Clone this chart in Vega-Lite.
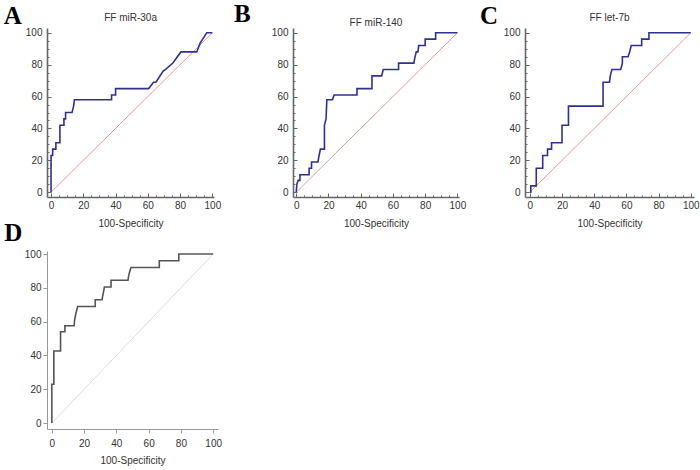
{
  "$schema": "https://vega.github.io/schema/vega-lite/v6.json",
  "padding": {"left": 3, "top": 2, "right": 5, "bottom": 5},
  "background": "white",
  "config": {
    "view": {"stroke": null},
    "font": "Liberation Sans",
    "axis": {"grid": false, "tickCount": 40, "labelFont": "Liberation Sans", "titleFont": "Liberation Sans", "labelFontSize": 10, "titleFontSize": 10, "titleFontWeight": "normal", "labelColor": "#333", "titleColor": "#333", "labelFlush": false, "labelOverlap": false, "labelBound": false}
  },
  "datasets": {
    "diag": [{"x": 0, "y": 0}, {"x": 100, "y": 100}],
    "A": [{"x":0,"y":0},{"x":0,"y":23},{"x":1,"y":23},{"x":1,"y":27},{"x":3,"y":27},{"x":3,"y":31},{"x":5.5,"y":31},{"x":5.5,"y":42},{"x":8,"y":42},{"x":8,"y":46},{"x":9,"y":46},{"x":9,"y":50},{"x":13,"y":50},{"x":14,"y":54},{"x":14.5,"y":58},{"x":37.5,"y":58},{"x":37.5,"y":61},{"x":40,"y":61},{"x":40,"y":65},{"x":60.5,"y":65},{"x":62,"y":67},{"x":63.5,"y":69},{"x":65,"y":69},{"x":69.5,"y":76},{"x":71,"y":77},{"x":75.5,"y":81},{"x":80.5,"y":88},{"x":90.3,"y":88},{"x":92.4,"y":93.5},{"x":96.5,"y":100},{"x":100,"y":100}],
    "B": [{"x":0,"y":0},{"x":0.4,"y":5},{"x":1.2,"y":7.4},{"x":2.3,"y":7.4},{"x":2.3,"y":11},{"x":8,"y":11},{"x":8,"y":15},{"x":9.5,"y":15},{"x":9.5,"y":19},{"x":13.5,"y":19},{"x":14,"y":22},{"x":15,"y":27},{"x":17.5,"y":27},{"x":17.5,"y":42},{"x":18.5,"y":46},{"x":19,"y":58},{"x":22.5,"y":58},{"x":23.5,"y":61},{"x":37.7,"y":61},{"x":37.7,"y":65},{"x":47,"y":65},{"x":47,"y":73},{"x":53,"y":73},{"x":54,"y":77},{"x":63.5,"y":77},{"x":63.5,"y":81},{"x":73,"y":81},{"x":73.5,"y":84},{"x":74.5,"y":88},{"x":75.5,"y":88},{"x":76,"y":92},{"x":80,"y":92},{"x":80,"y":96},{"x":86.5,"y":96},{"x":86.5,"y":100},{"x":100,"y":100}],
    "C": [{"x":0,"y":0},{"x":0.6,"y":0},{"x":0.6,"y":4},{"x":4,"y":4},{"x":4,"y":15},{"x":8,"y":15},{"x":8,"y":23},{"x":11,"y":23},{"x":11,"y":27},{"x":13.5,"y":27},{"x":13.5,"y":31},{"x":20,"y":31},{"x":20,"y":42},{"x":24,"y":42},{"x":24,"y":54},{"x":45.5,"y":54},{"x":45.5,"y":69},{"x":49.5,"y":69},{"x":50,"y":73},{"x":51,"y":77},{"x":56.5,"y":77},{"x":57.5,"y":81},{"x":57.5,"y":85},{"x":61,"y":85},{"x":62,"y":88},{"x":63,"y":92},{"x":69.5,"y":92},{"x":69.5,"y":96},{"x":74,"y":96},{"x":74,"y":100},{"x":100,"y":100}],
    "D": [{"x":0,"y":0},{"x":0,"y":23},{"x":1.25,"y":23},{"x":1.25,"y":42.6},{"x":5.4,"y":42.6},{"x":5.4,"y":54},{"x":8.1,"y":54},{"x":8.1,"y":57.6},{"x":13.8,"y":57.6},{"x":14.2,"y":61.4},{"x":15,"y":65.3},{"x":16,"y":69},{"x":26.9,"y":69},{"x":26.9,"y":73},{"x":31.1,"y":73},{"x":31.9,"y":77},{"x":32.6,"y":80.5},{"x":36.7,"y":80.5},{"x":36.7,"y":84.5},{"x":47.2,"y":84.5},{"x":47.8,"y":88},{"x":49,"y":92},{"x":66.6,"y":92},{"x":66.6,"y":96},{"x":78.7,"y":96},{"x":78.7,"y":100},{"x":100,"y":100}]
  },
  "vconcat": [
    {
      "hconcat": [
        {
          "width": 167, "height": 169,
          "layer": [
            {"data": {"name": "diag"}, "mark": {"type": "line", "color": "#e39a9a", "strokeWidth": 1},
             "encoding": {"x": {"field": "x", "type": "quantitative"}, "y": {"field": "y", "type": "quantitative"}}},
            {"data": {"name": "A"}, "mark": {"type": "line", "color": "#2e3192", "strokeWidth": 1.6},
             "encoding": {
               "x": {"field": "x", "type": "quantitative", "scale": {"domain": [-2.5, 101], "nice": false, "zero": false},
                     "axis": {"title": "100-Specificity", "tickCount": 40, "values": [0,5,10,15,20,25,30,35,40,45,50,55,60,65,70,75,80,85,90,95,100], "labelExpr": "datum.value % 20 === 0 ? datum.label : ''", "labelOverlap": false, "tickSize": {"condition": {"test": "datum.value % 20 === 0", "value": -4}, "value": -2}, "labelPadding": 7, "domainColor": "#666", "domainWidth": 1.6, "tickColor": "#666", "titlePadding": 6}},
               "y": {"field": "y", "type": "quantitative", "scale": {"domain": [-3, 103], "nice": false, "zero": false},
                     "axis": {"title": null, "tickCount": 40, "values": [0,5,10,15,20,25,30,35,40,45,50,55,60,65,70,75,80,85,90,95,100], "labelExpr": "datum.value % 20 === 0 ? datum.label : ''", "labelOverlap": false, "tickSize": {"condition": {"test": "datum.value % 20 === 0", "value": -4}, "value": -2}, "labelPadding": 9, "domainColor": "#666", "domainWidth": 1.6, "tickColor": "#666"}},
               "order": {"value": null}}},
            {"data": {"values": [{"label": "A", "title": "FF miR-30a"}]},
             "layer": [
               {"mark": {"type": "text", "font": "Liberation Serif", "fontWeight": "bold", "fontSize": 25, "align": "left", "baseline": "alphabetic", "color": "black"},
                "encoding": {"x": {"datum": -29.3}, "y": {"datum": 105.5}, "text": {"field": "label"}}},
               {"mark": {"type": "text", "font": "Liberation Sans", "fontSize": 10, "align": "center", "baseline": "middle", "color": "#333"},
                "encoding": {"x": {"datum": 49.3}, "y": {"datum": 109.5}, "text": {"field": "title"}}}
             ]}
          ]
        },
        {
          "width": 166, "height": 169,
          "layer": [
            {"data": {"name": "diag"}, "mark": {"type": "line", "color": "#e39a9a", "strokeWidth": 1},
             "encoding": {"x": {"field": "x", "type": "quantitative"}, "y": {"field": "y", "type": "quantitative"}}},
            {"data": {"name": "B"}, "mark": {"type": "line", "color": "#2e3192", "strokeWidth": 1.6},
             "encoding": {
               "x": {"field": "x", "type": "quantitative", "scale": {"domain": [-2, 101], "nice": false, "zero": false},
                     "axis": {"title": "100-Specificity", "tickCount": 40, "values": [0,5,10,15,20,25,30,35,40,45,50,55,60,65,70,75,80,85,90,95,100], "labelExpr": "datum.value % 20 === 0 ? datum.label : ''", "labelOverlap": false, "tickSize": {"condition": {"test": "datum.value % 20 === 0", "value": -4}, "value": -2}, "labelPadding": 7, "domainColor": "#666", "domainWidth": 1.6, "tickColor": "#666", "titlePadding": 6}},
               "y": {"field": "y", "type": "quantitative", "scale": {"domain": [-3, 103], "nice": false, "zero": false},
                     "axis": {"title": null, "tickCount": 40, "values": [0,5,10,15,20,25,30,35,40,45,50,55,60,65,70,75,80,85,90,95,100], "labelExpr": "datum.value % 20 === 0 ? datum.label : ''", "labelOverlap": false, "tickSize": {"condition": {"test": "datum.value % 20 === 0", "value": -4}, "value": -2}, "labelPadding": 9, "domainColor": "#666", "domainWidth": 1.6, "tickColor": "#666"}},
               "order": {"value": null}}},
            {"data": {"values": [{"label": "B", "title": "FF miR-140"}]},
             "layer": [
               {"mark": {"type": "text", "font": "Liberation Serif", "fontWeight": "bold", "fontSize": 25, "align": "left", "baseline": "alphabetic", "color": "black"},
                "encoding": {"x": {"datum": -38.6}, "y": {"datum": 106.6}, "text": {"field": "label"}}},
               {"mark": {"type": "text", "font": "Liberation Sans", "fontSize": 10, "align": "center", "baseline": "middle", "color": "#333"},
                "encoding": {"x": {"datum": 49.5}, "y": {"datum": 106.0}, "text": {"field": "title"}}}
             ]}
          ]
        },
        {
          "width": 169, "height": 169,
          "layer": [
            {"data": {"name": "diag"}, "mark": {"type": "line", "color": "#e39a9a", "strokeWidth": 1},
             "encoding": {"x": {"field": "x", "type": "quantitative"}, "y": {"field": "y", "type": "quantitative"}}},
            {"data": {"name": "C"}, "mark": {"type": "line", "color": "#2e3192", "strokeWidth": 1.6},
             "encoding": {
               "x": {"field": "x", "type": "quantitative", "scale": {"domain": [-3, 102], "nice": false, "zero": false},
                     "axis": {"title": "100-Specificity", "tickCount": 40, "values": [0,5,10,15,20,25,30,35,40,45,50,55,60,65,70,75,80,85,90,95,100], "labelExpr": "datum.value % 20 === 0 ? datum.label : ''", "labelOverlap": false, "tickSize": {"condition": {"test": "datum.value % 20 === 0", "value": -4}, "value": -2}, "labelPadding": 7, "domainColor": "#666", "domainWidth": 1.6, "tickColor": "#666", "titlePadding": 6}},
               "y": {"field": "y", "type": "quantitative", "scale": {"domain": [-3, 103], "nice": false, "zero": false},
                     "axis": {"title": null, "tickCount": 40, "values": [0,5,10,15,20,25,30,35,40,45,50,55,60,65,70,75,80,85,90,95,100], "labelExpr": "datum.value % 20 === 0 ? datum.label : ''", "labelOverlap": false, "tickSize": {"condition": {"test": "datum.value % 20 === 0", "value": -4}, "value": -2}, "labelPadding": 9, "domainColor": "#666", "domainWidth": 1.6, "tickColor": "#666"}},
               "order": {"value": null}}},
            {"data": {"values": [{"label": "C", "title": "FF let-7b"}]},
             "layer": [
               {"mark": {"type": "text", "font": "Liberation Serif", "fontWeight": "bold", "fontSize": 25, "align": "left", "baseline": "alphabetic", "color": "black"},
                "encoding": {"x": {"datum": -31}, "y": {"datum": 105.5}, "text": {"field": "label"}}},
               {"mark": {"type": "text", "font": "Liberation Sans", "fontSize": 10, "align": "center", "baseline": "middle", "color": "#333"},
                "encoding": {"x": {"datum": 49.5}, "y": {"datum": 109.5}, "text": {"field": "title"}}}
             ]}
          ]
        }
      ],
      "spacing": 13
    },
    {
      "width": 171, "height": 178,
      "layer": [
        {"data": {"name": "diag"}, "mark": {"type": "line", "color": "#dcdcdc", "strokeWidth": 1},
         "encoding": {"x": {"field": "x", "type": "quantitative"}, "y": {"field": "y", "type": "quantitative"}}},
        {"data": {"name": "D"}, "mark": {"type": "line", "color": "#555555", "strokeWidth": 1.6},
         "encoding": {
           "x": {"field": "x", "type": "quantitative", "scale": {"domain": [-3, 103], "nice": false, "zero": false},
                 "axis": {"title": "100-Specificity", "tickCount": 40, "values": [0,20,40,60,80,100], "labelOverlap": false, "tickSize": 4, "labelPadding": 5, "domainColor": "#999", "domainWidth": 1, "tickColor": "#999", "titlePadding": 7}},
           "y": {"field": "y", "type": "quantitative", "scale": {"domain": [-3.5, 101.8], "nice": false, "zero": false},
                 "axis": {"title": null, "tickCount": 40, "values": [0,20,40,60,80,100], "labelOverlap": false, "tickSize": 4, "labelPadding": 2, "domainColor": "#999", "domainWidth": 1, "tickColor": "#999"}},
           "order": {"value": null}}},
        {"data": {"values": [{"label": "D"}]}, "mark": {"type": "text", "font": "Liberation Serif", "fontWeight": "bold", "fontSize": 25, "align": "left", "baseline": "alphabetic", "color": "black"},
         "encoding": {"x": {"datum": -29.5}, "y": {"datum": 107.7}, "text": {"field": "label"}}}
      ]
    }
  ],
  "spacing": -7
}
